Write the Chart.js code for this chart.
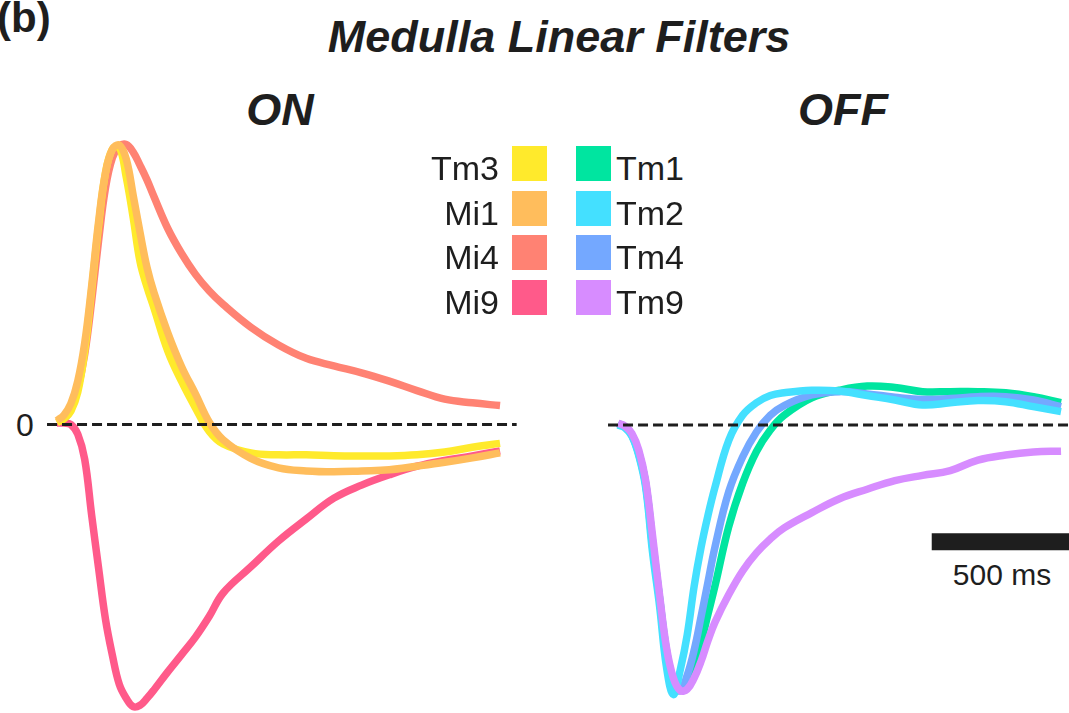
<!DOCTYPE html>
<html>
<head>
<meta charset="utf-8">
<script src="https://cdn.jsdelivr.net/npm/chart.js@4.4.0/dist/chart.umd.min.js"></script>
<style>
  html, body { margin: 0; padding: 0; background: #fff; }
  body {
    width: 1069px; height: 713px; position: relative; overflow: hidden;
    font-family: "Liberation Sans", Arial, Helvetica, sans-serif; color: #1e1e1e;
  }
  canvas { position: absolute; }
  .t { position: absolute; white-space: nowrap; line-height: 1; }
  .c { transform: translateX(-50%); }
  .bi { font-weight: bold; font-style: italic; }
  .sw { position: absolute; width: 35px; height: 35px; }
</style>
</head>
<body>

<div class="t" style="left:-3px; top:-3px; font-size:42px; font-weight:bold;">(b)</div>
<div class="t c bi" style="left:559px; top:14px; font-size:45px;">Medulla Linear Filters</div>
<div class="t c bi" style="left:280px; top:87px; font-size:45px;">ON</div>
<div class="t c bi" style="left:843px; top:87px; font-size:45px;">OFF</div>
<div class="t c" style="left:25px; top:409px; font-size:32px;">0</div>
<div class="t c" style="left:1002px; top:560px; font-size:30px;">500 ms</div>

<canvas id="onChart" width="480" height="593" style="left:40px; top:120px;"></canvas>
<canvas id="offChart" width="479" height="383" style="left:590px; top:330px;"></canvas>

<div id="legend"></div>

<script>
// time axis (ms after stimulus), shared by every filter
const times = [0, 25, 50, 75, 100, 125, 150, 175, 200, 225, 250, 275, 300, 325, 350,
	400, 450, 500, 550, 600, 700, 800, 900, 1000, 1100, 1200, 1300, 1400, 1500, 1600];

// ON pathway filters (normalised, peak = 100)
const tm3 = [0.7, 2.0, 4.8, 11.6, 26.5, 48.3, 71.4, 90.5, 99.0, 99.8, 89.0, 74.5, 58.5, 49.5, 42.0,
	26.5, 15.5, 6.0, -2.5, -7.0, -10.2, -10.9, -10.9, -11.2, -11.3, -11.3, -10.9, -9.9, -8.2, -6.8];
const mi1 = [1.4, 3.4, 7.5, 15.6, 29.3, 49.7, 72.8, 90.5, 99.0, 100.5, 95.5, 82.5, 69.0, 56.5, 47.5,
	33.0, 20.8, 11.0, 0.8, -5.5, -12.2, -15.6, -16.7, -17.0, -16.7, -16.3, -15.0, -13.6, -12.0, -10.2];
const mi4 = [0.7, 2.0, 5.4, 12.9, 25.2, 44.2, 66.0, 85.0, 95.9, 100, 100.7, 98.0, 93.2, 88.0, 82.0,
	70.5, 61.5, 54.0, 48.0, 43.2, 35.0, 28.6, 23.8, 21.1, 18.6, 15.6, 12.2, 9.1, 7.8, 6.8];
const mi9 = [0.5, 0.5, 0, -3.5, -12.5, -32.5, -51.5, -70.0, -83.0, -93.5, -98.5, -101.5, -101.0, -98.5, -95.5,
	-89.0, -82.8, -76.5, -69.0, -60.6, -51.2, -41.9, -34.0, -26.5, -21.8, -18.1, -15.0, -12.9, -11.3, -9.5];

// OFF pathway filters
const tm1 = [0.6, -0.6, -3.5, -10.0, -21.0, -42.0, -62.0, -81.0, -92.0, -95.0, -92.0, -86.0, -78.0, -68.0, -58.0,
	-36.5, -21.0, -9.5, -1.8, 3.5, 9.8, 12.5, 14.0, 13.5, 12.0, 12.0, 12.0, 11.6, 10.2, 8.0];
const tm2 = [0, -1.0, -4.0, -11.0, -22.5, -46.0, -65.0, -87.0, -97.0, -88.0, -75.5, -58.0, -44.0, -32.5, -22.5,
	-5.5, 3.5, 8.0, 10.6, 11.6, 12.5, 12.2, 10.6, 9.0, 7.2, 8.0, 8.8, 8.4, 6.6, 4.8];
const tm4 = [0.4, -0.8, -3.8, -10.5, -21.5, -44.0, -63.0, -83.0, -94.0, -95.5, -90.0, -81.0, -69.0, -56.5, -44.0,
	-24.0, -11.5, -2.5, 3.5, 7.0, 10.8, 12.0, 11.2, 10.0, 9.2, 9.5, 10.2, 10.2, 9.0, 6.6];
const tm9 = [0.6, -0.4, -3.0, -9.0, -20.0, -40.0, -61.0, -80.0, -91.0, -95.5, -95.0, -91.0, -85.0, -77.5, -71.0,
	-61.0, -52.5, -46.0, -41.0, -37.0, -31.5, -26.5, -23.1, -20.0, -18.1, -16.4, -12.6, -10.8, -9.7, -9.4];

const zeroSpan = [-36, 1660];      // extent of the dashed zero line, ms
const scaleBarMs = 500;

const colors = {
	Tm3: '#ffea2c', Mi1: '#ffbd5c', Mi4: '#ff8273', Mi9: '#ff5a8a',
	Tm1: '#00e5a0', Tm2: '#44e0ff', Tm4: '#74a8ff', Tm9: '#d78cff'
};

// layout: px per ms, and px per unit of filter value
const PX_MS = 0.2769;
const PX_UNIT = 2.78;

function curve(label, values) {
	return {
		label: label,
		data: times.map((t, i) => ({ x: t, y: values[i] })),
		borderColor: colors[label],
		borderWidth: 7.5,
		borderJoinStyle: 'round',
		tension: 0.4,
		pointRadius: 0,
		fill: false
	};
}

function zeroLine() {
	return {
		label: 'zero',
		data: zeroSpan.map(t => ({ x: t, y: 0 })),
		borderColor: '#1e1e1e',
		borderWidth: 3,
		borderDash: [10, 5],
		pointRadius: 0
	};
}

function makePanel(id, box, originX, zeroY, datasets) {
	return new Chart(document.getElementById(id), {
		type: 'line',
		data: { datasets: datasets },
		options: {
			responsive: false,
			animation: false,
			devicePixelRatio: 1,
			layout: { padding: 0 },
			plugins: { legend: { display: false }, tooltip: { enabled: false } },
			scales: {
				x: {
					type: 'linear', display: false,
					min: (box.left - originX) / PX_MS,
					max: (box.left + box.width - originX) / PX_MS
				},
				y: {
					display: false,
					min: (zeroY - box.top - box.height) / PX_UNIT,
					max: (zeroY - box.top) / PX_UNIT
				}
			}
		}
	});
}

makePanel('onChart', { left: 40, top: 120, width: 480, height: 593 }, 57, 424.5, [
	zeroLine(),
	curve('Mi1', mi1),
	curve('Tm3', tm3),
	curve('Mi4', mi4),
	curve('Mi9', mi9)
]);

const barStart = 1133;
makePanel('offChart', { left: 590, top: 330, width: 479, height: 383 }, 618, 425, [
	zeroLine(),
	{
		label: 'scale',
		data: [{ x: barStart, y: -42 }, { x: barStart + scaleBarMs, y: -42 }],
		borderColor: '#1e1e1e',
		borderWidth: 17,
		borderCapStyle: 'butt',
		pointRadius: 0
	},
	curve('Tm9', tm9),
	curve('Tm2', tm2),
	curve('Tm4', tm4),
	curve('Tm1', tm1)
]);

// legend: two columns of coloured squares
const leftNames = ['Tm3', 'Mi1', 'Mi4', 'Mi9'];
const rightNames = ['Tm1', 'Tm2', 'Tm4', 'Tm9'];
const legend = document.getElementById('legend');
let html = '';
leftNames.forEach((n, i) => {
	const top = 146 + i * 44.7;
	html += `<div class="t" style="right:${1069 - 499}px; top:${top + 5}px; font-size:34px;">${n}</div>`;
	html += `<div class="sw" style="left:512px; top:${top}px; background:${colors[n]}"></div>`;
});
rightNames.forEach((n, i) => {
	const top = 146 + i * 44.7;
	html += `<div class="sw" style="left:576px; top:${top}px; background:${colors[n]}"></div>`;
	html += `<div class="t" style="left:616px; top:${top + 5}px; font-size:34px;">${n}</div>`;
});
legend.innerHTML = html;
</script>
</body>
</html>
